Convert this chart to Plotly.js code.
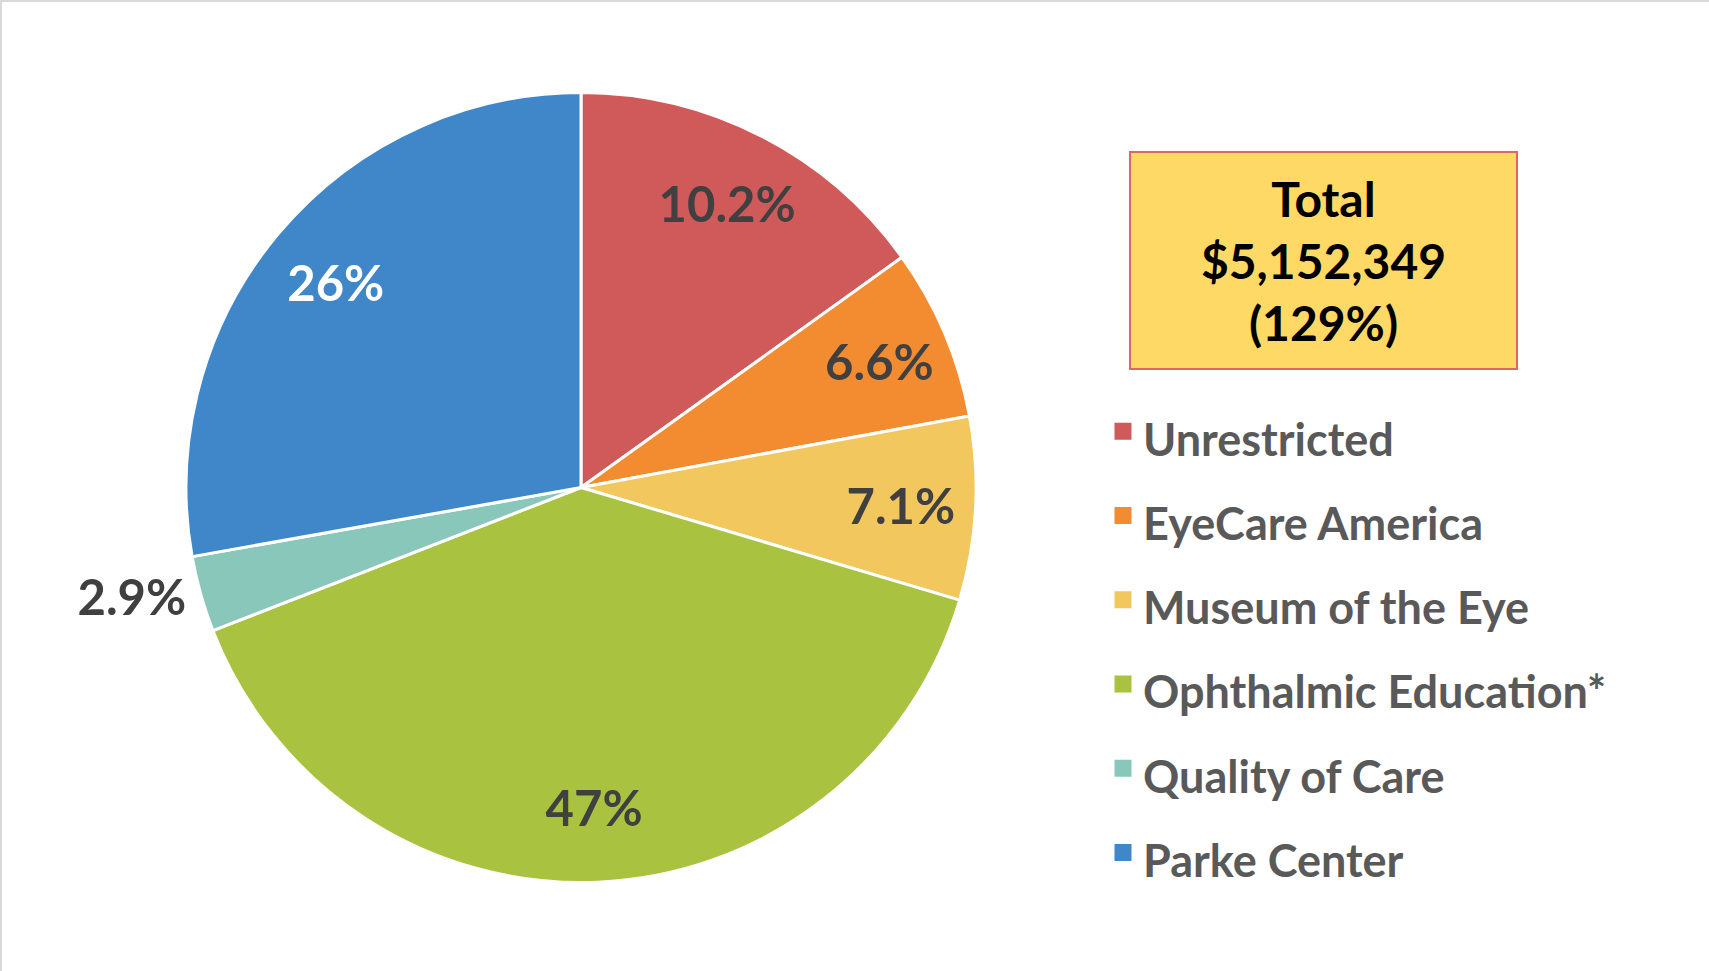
<!DOCTYPE html>
<html>
<head>
<meta charset="utf-8">
<script src="https://cdn.plot.ly/plotly-3.0.1.min.js"></script>
<style>
  html, body { margin: 0; padding: 0; background: #fff; }
  #chart { width: 1709px; height: 971px; box-sizing: border-box; border: 2px solid #d9d9d9; }
</style>
</head>
<body>
<div id="chart"></div>
<script>
// ---- data ----
const categories = ["Unrestricted", "EyeCare America", "Museum of the Eye", "Ophthalmic Education*", "Quality of Care", "Parke Center"];
const shareValues = [15.1, 7.0, 7.5, 39.5, 3.1, 27.8];          // slice sizes
const labelTexts = ["10.2%", "6.6%", "7.1%", "47%", "2.9%", "26%"]; // printed labels
const sliceColors = ["#D05A59", "#F38C31", "#F1C75E", "#A9C23F", "#88C7BA", "#3F87C9"];
const labelColors = ["#404040", "#404040", "#404040", "#404040", "#404040", "#ffffff"];
const labelPositions = ["inside", "inside", "inside", "inside", "outside", "inside"];
const totalLines = ["Total", "$5,152,349", "(129%)"];

const W = 1709, H = 971;
const cx = 579, cy = 485.5, R = 395;
const dom = { x: [(cx - R) / W, (cx + R) / W], y: [1 - (cy + R) / H, 1 - (cy - R) / H] };
const domInner = { x: [(cx - R + 3) / W, (cx + R - 3) / W], y: [1 - (cy + R - 3) / H, 1 - (cy - R + 3) / H] };
const legendLabels = categories.map(c => '<span style="font-size:45px">' + c + '</span>');
const FONT = "Lato, 'Open Sans', sans-serif";

const common = { labels: legendLabels, values: shareValues, sort: false, direction: "clockwise", rotation: 0, hoverinfo: "skip" };

const traces = [
  // legend provider (hidden under main pie)
  Object.assign({}, common, {
    type: "pie", domain: domInner, textinfo: "none", showlegend: true,
    marker: { colors: sliceColors, line: { color: sliceColors, width: 5 } }
  }),
  // main pie
  Object.assign({}, common, {
    type: "pie", domain: dom, textinfo: "none", showlegend: false,
    marker: { colors: sliceColors, line: { color: "#ffffff", width: 3 } }
  }),
  // transparent ring carrying the data labels
  Object.assign({}, common, {
    type: "pie", domain: dom, hole: 0.62, showlegend: false,
    text: labelTexts, textinfo: "text", texttemplate: "%{text}",
    textposition: labelPositions, insidetextorientation: "horizontal",
    textfont: { family: FONT, size: 49, weight: 700, color: labelColors },
    outsidetextfont: { family: FONT, size: 49, weight: 700, color: "#404040" },
    marker: { colors: sliceColors.map(() => "rgba(0,0,0,0)"), line: { width: 0 } }
  })
];

const layout = {
  width: W, height: H,
  margin: { l: 0, r: 0, t: 0, b: 0 },
  paper_bgcolor: "#ffffff",
  showlegend: true,
  legend: {
    x: 1101 / W, xanchor: "left", y: 1 - 382 / H, yanchor: "top",
    font: { family: FONT, size: 62.5, weight: 700, color: "#595959" },
    bgcolor: "rgba(0,0,0,0)", borderwidth: 0, traceorder: "normal"
  },
  annotations: [{
    xref: "paper", yref: "paper", x: 1321.5 / W, y: 1 - 258.5 / H, xanchor: "center", yanchor: "middle",
    text: totalLines.join("<br>"), showarrow: false,
    font: { family: FONT, size: 48, weight: 700, color: "#000000" },
    bgcolor: "#FFD966", bordercolor: "#E06666", borderwidth: 2, borderpad: 0,
    width: 385, height: 215, align: "center", valign: "middle"
  }]
};

Plotly.newPlot("chart", traces, layout, { displayModeBar: false, staticPlot: true });
</script>
</body>
</html>
